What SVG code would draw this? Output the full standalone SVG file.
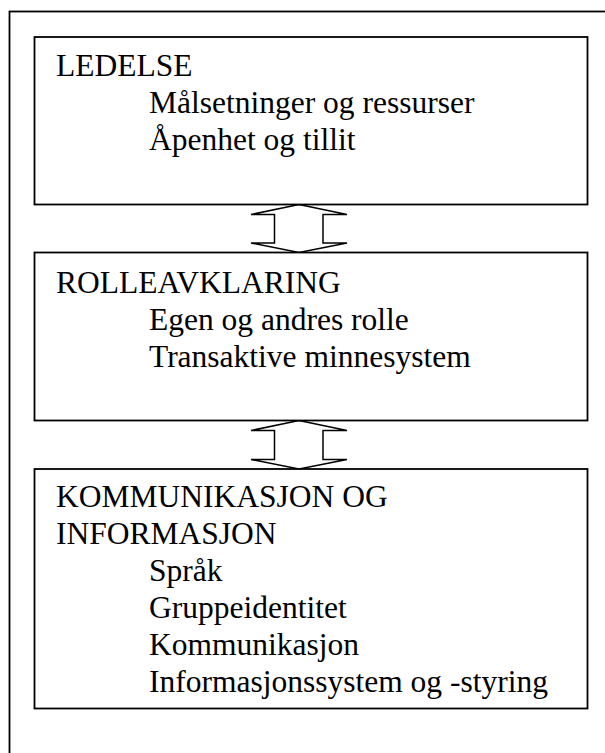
<svg xmlns="http://www.w3.org/2000/svg" width="605" height="753" viewBox="0 0 605 753">
  <style>
    .frame { fill: none; stroke: #000; stroke-width: 1.8; }
    .box { fill: #fff; stroke: #000; stroke-width: 1.8; }
    .arrow { fill: #fff; stroke: #000; stroke-width: 1.5; stroke-linejoin: miter; }
    text { font-family: "Liberation Serif", "Times New Roman", serif; font-size: 31.5px; fill: #000; }
  </style>
  <rect width="605" height="753" fill="#fff"/>

  <!-- outer frame, runs off the right and bottom edges -->
  <rect class="frame" x="9.5" y="11.5" width="640" height="780"/>

  <!-- double-headed block arrows between the boxes -->
  <g id="connectors">
    <polygon class="arrow" points="299,204.5 347,214.5 323,214.5 323,243 347,243 299,252.5 251,243 274.5,243 274.5,214.5 251,214.5"/>
    <polygon class="arrow" points="299,420.5 347,430.5 323,430.5 323,459.5 347,459.5 299,469 251,459.5 274.5,459.5 274.5,430.5 251,430.5"/>
  </g>

  <g id="ledelse">
    <rect class="box" x="34.5" y="37" width="553" height="167.5"/>
    <text x="56" y="76">LEDELSE</text>
    <text x="149" y="113">Målsetninger og ressurser</text>
    <text x="149" y="150">Åpenhet og tillit</text>
  </g>

  <g id="rolleavklaring">
    <rect class="box" x="34.5" y="252.5" width="553" height="168"/>
    <text x="56" y="292.5">ROLLEAVKLARING</text>
    <text x="149" y="329.5">Egen og andres rolle</text>
    <text x="149" y="366.5">Transaktive minnesystem</text>
  </g>

  <g id="kommunikasjon">
    <rect class="box" x="34.5" y="469" width="553" height="239.5"/>
    <text x="56" y="507">KOMMUNIKASJON OG</text>
    <text x="56" y="544">INFORMASJON</text>
    <text x="149" y="581">Språk</text>
    <text x="149" y="618">Gruppeidentitet</text>
    <text x="149" y="655">Kommunikasjon</text>
    <text x="149" y="692">Informasjonssystem og -styring</text>
  </g>
</svg>
